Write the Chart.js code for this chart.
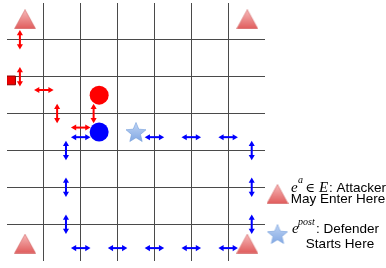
<!DOCTYPE html>
<html><head><meta charset="utf-8">
<script src="https://cdn.jsdelivr.net/npm/chart.js@4"></script>
<style>html,body{margin:0;padding:0;background:#fff}#wrap{width:386px;height:268px;position:relative}</style>
</head><body><div id="wrap"><canvas id="c"></canvas></div>
<script>
// ---- data (grid units: 7x7 cells, y grows downward) ----
const gridCells = 7;
const gridLines = [1, 2, 3, 4, 5, 6];
const attackerEntries = [[0.49, 0.44], [6.52, 0.44], [0.49, 6.53], [6.52, 6.53]];
const defenderStart = [[3.5, 3.5]];
const attackerPos = [[2.5, 2.5]];
const defenderPos = [[2.5, 3.5]];
const attackerOrigin = [[0.11, 2.1]];
const redArrowsV = [[0.35, 1], [0.35, 2], [1.36, 3], [2.35, 3]];
const redArrowsH = [[1, 2.36], [2, 3.38]];
const blueArrowsH = [[2, 3.64], [4, 3.64], [5, 3.64], [6, 3.64], [2, 6.65], [3, 6.65], [4, 6.65], [5, 6.65], [6, 6.65]];
const blueArrowsV = [[1.6, 4], [1.6, 5], [1.6, 6], [6.64, 4], [6.64, 5], [6.64, 6]];
const legendLine1 = ['e', 'a', '\u2208', 'E', ': Attacker'];
const legendLine2 = 'May Enter Here';
const legendLine3 = ['e', 'post', ': Defender'];
const legendLine4 = 'Starts Here';

const HALF = 0.17;

function makeTriangle(w, h) {
  const cv = document.createElement('canvas'); cv.width = w; cv.height = h;
  const g = cv.getContext('2d');
  const gr = g.createLinearGradient(0, 0, 0, h);
  gr.addColorStop(0, '#f7bcbc'); gr.addColorStop(1, '#e05a5a');
  g.beginPath(); g.moveTo(w / 2, 0.5); g.lineTo(w - 0.5, h - 0.5); g.lineTo(0.5, h - 0.5); g.closePath();
  g.fillStyle = gr; g.fill();
  g.strokeStyle = 'rgba(205,90,90,0.7)'; g.lineWidth = 0.8; g.stroke();
  return cv;
}
function makeStar(size) {
  const cv = document.createElement('canvas'); cv.width = size; cv.height = size;
  const g = cv.getContext('2d');
  const R = size / 2 - 0.5, r = R * 0.45;
  const cx = size / 2, cy = (size - 1.809 * R) / 2 + R;
  const gr = g.createLinearGradient(0, 0, 0, size);
  gr.addColorStop(0, '#c4d8f6'); gr.addColorStop(1, '#7ea5e2');
  g.beginPath();
  for (let i = 0; i < 10; i++) {
    const a = (-90 + i * 36) * Math.PI / 180, rr = i % 2 ? r : R;
    const px = cx + rr * Math.cos(a), py = cy + rr * Math.sin(a);
    i ? g.lineTo(px, py) : g.moveTo(px, py);
  }
  g.closePath(); g.fillStyle = gr; g.fill();
  g.strokeStyle = 'rgba(120,160,220,0.8)'; g.lineWidth = 0.8; g.stroke();
  return cv;
}
const triImg = makeTriangle(22, 20);
const starImg = makeStar(22);

const pts = arr => arr.map(([x, y]) => ({ x, y }));
function arrowDS(list, orient, color) {
  return list.map(([x, y]) => ({
    data: orient === 'h' ? [{ x: x - HALF, y }, { x: x + HALF, y }] : [{ x, y: y - HALF }, { x, y: y + HALF }],
    showLine: true, borderColor: color, backgroundColor: color, borderWidth: 2,
    pointStyle: 'triangle', pointRadius: 3.5, pointBorderWidth: 0,
    pointRotation: orient === 'h' ? [-90, 90] : [0, 180], order: 5
  }));
}
const scaleOpts = (rev, horiz) => ({
  type: 'linear', min: 0, max: gridCells, reverse: rev,
  ticks: { display: false, stepSize: 1 },
  grid: { drawTicks: false, lineWidth: 1,
    color: c => (c.tick && gridLines.includes(c.tick.value)) ? '#4a4a4a' : 'rgba(0,0,0,0)' },
  border: { display: false },
  afterFit: s => { if (horiz) { s.height = 0; s.paddingLeft = 0; s.paddingRight = 0; } else { s.width = 0; s.paddingTop = 0; s.paddingBottom = 0; } }
});

const legendPlugin = {
  id: 'eqLegend',
  afterDraw(chart) {
    const ctx = chart.ctx;
    ctx.save();
    ctx.drawImage(triImg, 277.5 - 11, 194 - 10);
    ctx.drawImage(starImg, 277.5 - 11, 234 - 11);
    ctx.fillStyle = '#000'; ctx.textBaseline = 'alphabetic'; ctx.textAlign = 'left';
    const serifI = s => 'italic ' + s + 'px "Liberation Serif"';
    const sans = '13.5px "Liberation Sans"';
    ctx.font = serifI(15); ctx.fillText(legendLine1[0], 291, 192);
    ctx.font = serifI(10); ctx.fillText(legendLine1[1], 298, 182.5);
    ctx.font = '13px "DejaVu Serif"'; ctx.fillText(legendLine1[2], 305.5, 192);
    ctx.font = serifI(15); ctx.fillText(legendLine1[3], 319, 192);
    ctx.font = sans; ctx.fillText(legendLine1[4], 329, 192);
    ctx.textAlign = 'center'; ctx.fillText(legendLine2, 338, 202.5);
    ctx.textAlign = 'left';
    ctx.font = serifI(15); ctx.fillText(legendLine3[0], 292, 233);
    ctx.font = serifI(10); ctx.fillText(legendLine3[1], 298, 224.5);
    ctx.font = sans; ctx.fillText(legendLine3[2], 316, 233);
    ctx.textAlign = 'center'; ctx.fillText(legendLine4, 340, 247.5);
    ctx.restore();
  }
};

new Chart(document.getElementById('c'), {
  type: 'scatter',
  data: {
    datasets: [
      { data: pts(attackerPos), pointRadius: 9.5, backgroundColor: '#ff0000', borderWidth: 0, order: 1 },
      { data: pts(defenderPos), pointRadius: 9.5, backgroundColor: '#0000ff', borderWidth: 0, order: 1 },
      { data: pts(defenderStart), pointStyle: starImg, order: 2 },
      { data: pts(attackerEntries), pointStyle: triImg, order: 2 },
      { data: pts(attackerOrigin), pointStyle: 'rect', pointRadius: 6.2, backgroundColor: '#ee0000', borderColor: '#8a0000', borderWidth: 1, order: 2 },
      ...arrowDS(redArrowsV, 'v', '#ff0000'),
      ...arrowDS(redArrowsH, 'h', '#ff0000'),
      ...arrowDS(blueArrowsH, 'h', '#0000ff'),
      ...arrowDS(blueArrowsV, 'v', '#0000ff')
    ]
  },
  options: {
    responsive: true, maintainAspectRatio: false, animation: false, devicePixelRatio: 1,
    events: [],
    layout: { autoPadding: false, padding: { left: 7, top: 3, right: 121, bottom: 7 } },
    scales: { x: scaleOpts(false, true), y: scaleOpts(true, false) },
    plugins: { legend: { display: false }, tooltip: { enabled: false } }
  },
  plugins: [legendPlugin]
});
</script></body></html>
